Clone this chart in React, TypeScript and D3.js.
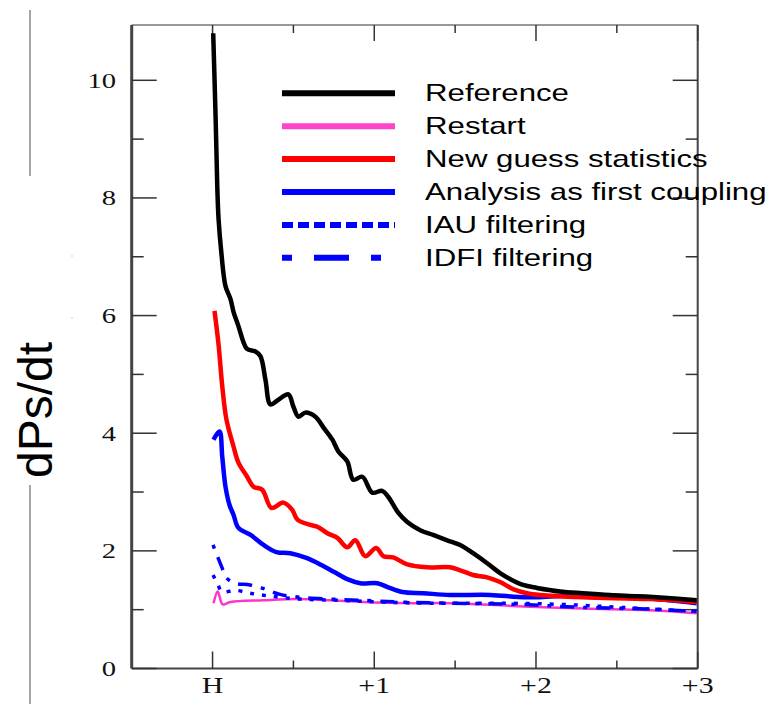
import React from "react";
import * as d3 from "d3";

// x: hours after start (0 = "H"), y: dPs/dt
const reference = [
  [0.004, 10.8], [0.019, 9.35], [0.029, 8.21], [0.037, 7.65], [0.054, 7.08], [0.08, 6.5],
  [0.111, 6.28], [0.13, 6.06], [0.16, 5.82], [0.191, 5.55], [0.214, 5.43], [0.265, 5.39],
  [0.296, 5.31], [0.327, 4.91], [0.358, 4.49], [0.407, 4.57], [0.469, 4.66], [0.5, 4.45],
  [0.531, 4.28], [0.574, 4.35], [0.636, 4.28], [0.685, 4.1], [0.741, 3.89], [0.778, 3.69],
  [0.833, 3.52], [0.87, 3.21], [0.926, 3.26], [0.988, 2.99], [1.049, 3.02], [1.086, 2.92],
  [1.148, 2.65], [1.204, 2.49], [1.284, 2.35], [1.364, 2.27], [1.451, 2.18], [1.531, 2.1],
  [1.611, 1.96], [1.698, 1.79], [1.778, 1.62], [1.84, 1.52], [1.92, 1.42], [2.006, 1.37],
  [2.148, 1.31], [2.29, 1.28], [2.457, 1.25], [2.623, 1.23], [2.747, 1.21], [2.994, 1.16],
];

const restart = [
  [0.006, 1.11], [0.031, 1.31], [0.043, 1.23], [0.062, 1.09], [0.111, 1.13], [0.315, 1.16],
  [0.525, 1.18], [0.728, 1.16], [0.932, 1.13], [1.241, 1.11], [1.469, 1.11], [1.883, 1.06],
  [2.29, 1.02], [2.704, 0.99], [2.994, 0.94],
];

const newGuess = [
  [0.012, 6.08], [0.037, 5.51], [0.06, 4.8], [0.086, 4.23], [0.13, 3.77], [0.16, 3.5],
  [0.214, 3.26], [0.253, 3.09], [0.307, 3.04], [0.364, 2.73], [0.438, 2.82], [0.492, 2.7],
  [0.525, 2.53], [0.605, 2.44], [0.648, 2.41], [0.71, 2.3], [0.772, 2.22], [0.833, 2.06],
  [0.883, 2.18], [0.944, 1.91], [1.012, 2.05], [1.056, 1.91], [1.117, 1.89], [1.204, 1.77],
  [1.327, 1.72], [1.469, 1.72], [1.531, 1.67], [1.611, 1.59], [1.698, 1.55], [1.778, 1.47],
  [1.858, 1.35], [1.944, 1.28], [2.025, 1.25], [2.29, 1.21], [2.704, 1.18], [2.994, 1.13],
];

const analysis = [
  [0.006, 3.89], [0.043, 4.03], [0.06, 3.6], [0.08, 3.09], [0.105, 2.78], [0.13, 2.61],
  [0.16, 2.39], [0.235, 2.27], [0.315, 2.1], [0.395, 1.98], [0.481, 1.96], [0.58, 1.88],
  [0.673, 1.76], [0.753, 1.64], [0.833, 1.52], [0.914, 1.45], [1.019, 1.45], [1.086, 1.38],
  [1.173, 1.3], [1.302, 1.28], [1.469, 1.25], [1.716, 1.25], [1.944, 1.21], [2.29, 1.25],
  [2.5, 1.21], [2.704, 1.19], [2.994, 1.11],
];

const iau = [
  [0.003, 1.59], [0.034, 1.42], [0.059, 1.3], [0.139, 1.33], [0.232, 1.28], [0.355, 1.23],
  [0.541, 1.18], [0.788, 1.16], [1.035, 1.13], [1.344, 1.11], [1.777, 1.11], [2.148, 1.09],
  [2.519, 1.04], [2.994, 0.97],
];

const idfi = [
  [0.003, 2.1], [0.034, 1.88], [0.059, 1.71], [0.083, 1.55], [0.139, 1.45], [0.232, 1.42],
  [0.325, 1.35], [0.417, 1.26], [0.541, 1.21], [0.726, 1.18], [0.912, 1.16], [1.159, 1.13],
  [1.468, 1.11], [1.901, 1.09], [2.272, 1.04], [2.704, 1.01], [2.994, 0.97],
];

const seriesNames = [
  "Reference",
  "Restart",
  "New guess statistics",
  "Analysis as first coupling",
  "IAU filtering",
  "IDFI filtering",
];

const yMajor = [0, 2, 4, 6, 8, 10];
const yMinor = [1, 3, 5, 7, 9];
const xMajor = [0, 1, 2, 3];
const xMinor = [0.5, 1.5, 2.5];
const xLabels = ["H", "+1", "+2", "+3"];

const W = 773;
const H = 704;
const SANS = "'Liberation Sans', Arial, Helvetica, sans-serif";
const SERIF = "'Liberation Serif', 'Times New Roman', Times, serif";

export default function App() {
  const x = d3.scaleLinear().domain([-0.5, 3]).range([131.7, 697.7]);
  const y = d3.scaleLinear().domain([0, 10.94]).range([668.5, 25]);
  const line = d3
    .line<number[]>()
    .x((d) => x(d[0]))
    .y((d) => y(d[1]))
    .curve(d3.curveCatmullRom.alpha(0.5));

  const [x0, x1] = x.range();
  const [y0, y1] = y.range();

  // drawing order, bottom first
  const curves = [
    { data: restart, color: "#ff33cc", width: 2.5, dash: null },
    { data: idfi, color: "#0000ff", width: 3.5, dash: "4,9,14,9" },
    { data: iau, color: "#0000ff", width: 3.5, dash: "4,8" },
    { data: analysis, color: "#0000ff", width: 4.5, dash: null },
    { data: newGuess, color: "#ff0000", width: 4.5, dash: null },
    { data: reference, color: "#000000", width: 4.5, dash: null },
  ];

  const legend = [
    { color: "#000000", dash: null },
    { color: "#ff44cc", dash: null },
    { color: "#ff0000", dash: null },
    { color: "#0000ff", dash: null },
    { color: "#0000ff", dash: "11,5" },
    { color: "#0000ff", dash: "10,22,35,22" },
  ];

  return (
    <svg
      width={W}
      height={H}
      style={{ position: "absolute", left: 0, top: 0, background: "#fff" }}
    >
      <rect width={W} height={H} fill="#fff" />

      {/* stray frame lines at left */}
      <line x1={30} x2={30} y1={10} y2={176} stroke="#888" strokeWidth={1.5} />
      <line x1={30} x2={30} y1={485} y2={704} stroke="#888" strokeWidth={1.5} />
      <line x1={71} x2={73} y1={256} y2={256} stroke="#ccc" strokeWidth={1} />
      <line x1={71} x2={73} y1={318} y2={318} stroke="#ccc" strokeWidth={1} />

      {/* y label */}
      <text
        transform="translate(52,410) rotate(-90)"
        textAnchor="middle"
        fontFamily={SANS}
        fontSize={48}
        fill="#000"
      >
        dPs/dt
      </text>

      {/* frame */}
      <line x1={x0} x2={x1} y1={y1} y2={y1} stroke="#777" strokeWidth={1.5} />
      <line x1={x0} x2={x1} y1={y0} y2={y0} stroke="#444" strokeWidth={2} />
      <line x1={x0} x2={x0} y1={y1} y2={y0} stroke="#444" strokeWidth={3} />
      <line x1={x1} x2={x1} y1={y1} y2={y0} stroke="#444" strokeWidth={2} />

      {/* y ticks */}
      {yMajor.map((v) => (
        <g key={"ym" + v}>
          <line x1={x0} x2={x0 + 25} y1={y(v)} y2={y(v)} stroke="#333" strokeWidth={1.5} />
          <line x1={x1} x2={x1 - 25} y1={y(v)} y2={y(v)} stroke="#333" strokeWidth={1.5} />
          <text
            transform={`translate(116,${y(v) + 7.5}) scale(1.3,1)`}
            textAnchor="end"
            fontFamily={SERIF}
            fontSize={22}
            fill="#111"
          >
            {v}
          </text>
        </g>
      ))}
      {yMinor.map((v) => (
        <g key={"yn" + v}>
          <line x1={x0} x2={x0 + 12} y1={y(v)} y2={y(v)} stroke="#333" strokeWidth={1.5} />
          <line x1={x1} x2={x1 - 12} y1={y(v)} y2={y(v)} stroke="#333" strokeWidth={1.5} />
        </g>
      ))}

      {/* x ticks */}
      {xMajor.map((v, i) => (
        <g key={"xm" + v}>
          <line x1={x(v)} x2={x(v)} y1={y0} y2={y0 - 17} stroke="#333" strokeWidth={1.5} />
          <line x1={x(v)} x2={x(v)} y1={y1} y2={y1 + 16} stroke="#333" strokeWidth={1.5} />
          <text
            transform={`translate(${x(v)},693) scale(1.3,1)`}
            textAnchor="middle"
            fontFamily={SERIF}
            fontSize={23}
            fill="#111"
          >
            {xLabels[i]}
          </text>
        </g>
      ))}
      {xMinor.map((v) => (
        <g key={"xn" + v}>
          <line x1={x(v)} x2={x(v)} y1={y0} y2={y0 - 8} stroke="#333" strokeWidth={1.5} />
          <line x1={x(v)} x2={x(v)} y1={y1} y2={y1 + 8} stroke="#333" strokeWidth={1.5} />
        </g>
      ))}

      {/* curves */}
      {curves.map((c, i) => (
        <path
          key={"c" + i}
          d={line(c.data) || ""}
          fill="none"
          stroke={c.color}
          strokeWidth={c.width}
          strokeDasharray={c.dash || undefined}
          strokeLinejoin="round"
        />
      ))}

      {/* legend */}
      {seriesNames.map((name, i) => {
        const ly = 93.3 + i * 32.9;
        return (
          <g key={"l" + i}>
            <line
              x1={282}
              x2={i === 5 ? 381 : 395}
              y1={ly}
              y2={ly}
              stroke={legend[i].color}
              strokeWidth={6}
              strokeDasharray={legend[i].dash || undefined}
            />
            <text
              transform={`translate(425,${ly + 8}) scale(1.3,1)`}
              fontFamily={SANS}
              fontSize={24}
              fill="#000"
            >
              {name}
            </text>
          </g>
        );
      })}
    </svg>
  );
}
